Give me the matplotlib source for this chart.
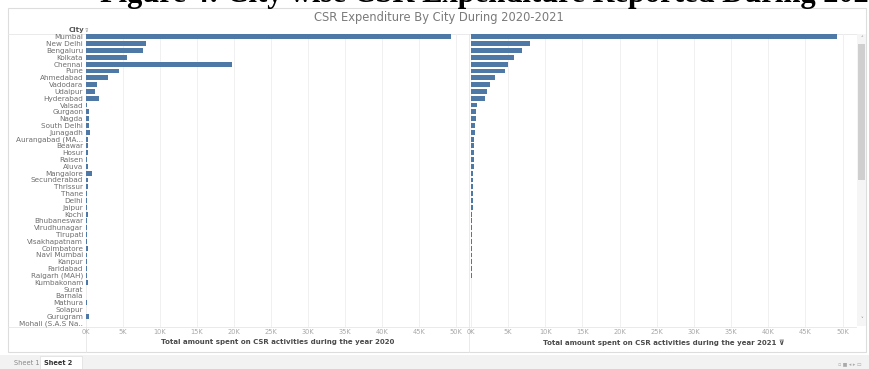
import numpy as np
import matplotlib
matplotlib.use("Agg")
import matplotlib.pyplot as plt
from matplotlib.patches import Rectangle

W, H = 870, 369

cities = ["Mumbai", "New Delhi", "Bengaluru", "Kolkata", "Chennai", "Pune",
          "Ahmedabad", "Vadodara", "Udaipur", "Hyderabad", "Valsad", "Gurgaon",
          "Nagda", "South Delhi", "Junagadh", "Aurangabad (MA...", "Beawar",
          "Hosur", "Raisen", "Aluva", "Mangalore", "Secunderabad", "Thrissur",
          "Thane", "Delhi", "Jaipur", "Kochi", "Bhubaneswar", "Virudhunagar",
          "Tirupati", "Visakhapatnam", "Coimbatore", "Navi Mumbai", "Kanpur",
          "Faridabad", "Raigarh (MAH)", "Kumbakonam", "Surat", "Barnala",
          "Mathura", "Solapur", "Gurugram", "Mohali (S.A.S Na.."]

# amounts in thousands
spent_2020 = [49.4, 8.1, 7.7, 5.5, 19.7, 4.5, 3.0, 1.5, 1.2, 1.8, 0.1, 0.45,
              0.45, 0.45, 0.5, 0.3, 0.3, 0.3, 0.2, 0.25, 0.75, 0.25, 0.3,
              0.2, 0.15, 0.15, 0.3, 0.12, 0.1, 0.1, 0.12, 0.25, 0.12, 0.12,
              0.12, 0.1, 0.3, 0.03, 0.03, 0.12, 0.03, 0.35, 0.02]
spent_2021 = [49.2, 7.9, 6.9, 5.8, 5.0, 4.6, 3.2, 2.5, 2.1, 1.9, 0.8, 0.7,
              0.7, 0.5, 0.5, 0.45, 0.42, 0.4, 0.38, 0.35, 0.33, 0.3, 0.28,
              0.26, 0.24, 0.22, 0.2, 0.18, 0.16, 0.15, 0.13, 0.12, 0.1, 0.09,
              0.08, 0.07, 0.06, 0.05, 0.05, 0.04, 0.03, 0.02, 0.01]
ticks = np.arange(0, 51, 5)
tick_labels = [f"{t}K" for t in ticks]

BAR = "#4e79a7"
GRID = "#eeeeee"


def box(x0, y0, x1, y1):
    # pixel box (top-left origin) -> figure fraction rect
    return [x0 / W, 1 - y1 / H, (x1 - x0) / W, (y1 - y0) / H]


fig = plt.figure(figsize=(W / 100, H / 100), dpi=100)
fig.patch.set_facecolor("white")

# report heading sitting above the dashboard, only its lower edge shows
fig.text(100 / W, 1 - 2 / H, "Figure 4: City wise CSR Expenditure Reported During 2020-2021",
         family="Liberation Serif", weight="bold", fontsize=22, color="black",
         ha="left", va="baseline")

# dashboard frame and sheet tab strip
bg = fig.add_axes([0, 0, 1, 1], zorder=-1)
bg.set_xlim(0, W)
bg.set_ylim(H, 0)
bg.axis("off")
bg.add_patch(Rectangle((0, 7), W, 350, facecolor="white", edgecolor="none"))
bg.add_patch(Rectangle((8, 8), 858, 344, facecolor="white", edgecolor="#dddddd", lw=0.8))
bg.add_patch(Rectangle((0, 355), W, 14, facecolor="#f2f2f2", edgecolor="none"))
bg.add_patch(Rectangle((40, 356), 42, 13, facecolor="white", edgecolor="#dddddd", lw=0.5))
bg.text(14, 363, "Sheet 1", fontsize=4.8, color="#888888", va="center")
bg.text(44, 363, "Sheet 2", fontsize=4.8, color="#333333", weight="bold", va="center")
bg.text(862, 364, "▫ ■ ◂ ▸ ▭", fontsize=3.5, color="#aaaaaa", va="center", ha="right")

bg.text(439, 17, "CSR Expenditure By City During 2020-2021", fontsize=8.3,
        color="#7a7a7a", ha="center", va="center")
bg.text(84, 30, "City", fontsize=5, weight="bold", color="#555555", ha="right", va="center")
bg.text(85, 30.5, "⊽", fontsize=3.5, color="#888888", ha="left", va="center")
bg.plot([8, 856], [33.5, 33.5], color="#e6e6e6", lw=0.6)
bg.plot([8, 856], [326.5, 326.5], color="#e6e6e6", lw=0.6)
bg.plot([86, 86], [33.5, 352], color="#e6e6e6", lw=0.6)
bg.plot([469.5, 469.5], [33.5, 352], color="#e6e6e6", lw=0.6)

# scrollbar
bg.add_patch(Rectangle((857, 34), 9, 292, facecolor="#f5f5f5", edgecolor="none"))
bg.add_patch(Rectangle((858, 44), 7, 136, facecolor="#cfcfcf", edgecolor="none"))
bg.text(861.5, 38.5, "˄", fontsize=4, color="#888888", ha="center", va="center")
bg.text(861.5, 320, "˅", fontsize=4, color="#888888", ha="center", va="center")

y = np.arange(len(cities))
panels = [
    (86, 469, spent_2020, "Total amount spent on CSR activities during the year 2020"),
    (471, 856, spent_2021, "Total amount spent on CSR activities during the year 2021 ⊽"),
]
for i, (x0, x1, vals, title) in enumerate(panels):
    ax = fig.add_axes(box(x0, 33.5, x1, 326.5))
    ax.barh(y, vals, height=0.72, color=BAR, zorder=3)
    ax.set_xlim(0, 51.8)
    ax.set_ylim(len(cities) - 0.5, -0.5)
    ax.set_xticks(ticks)
    ax.set_xticklabels(tick_labels, fontsize=4.8, color="#a8a8a8")
    ax.tick_params(axis="x", length=0, pad=1.5)
    ax.xaxis.grid(True, color=GRID, lw=0.6, zorder=0)
    ax.set_xlabel(title, fontsize=5, weight="bold", color="#4a4a4a", labelpad=3.5)
    if i == 0:
        ax.set_yticks(y)
        ax.set_yticklabels(cities, fontsize=5.2, color="#6e6e6e")
        ax.tick_params(axis="y", length=0, pad=2)
    else:
        ax.set_yticks([])
    for s in ax.spines.values():
        s.set_visible(False)
    ax.set_facecolor("none")

fig.savefig("out.png", dpi=100, facecolor="white")
